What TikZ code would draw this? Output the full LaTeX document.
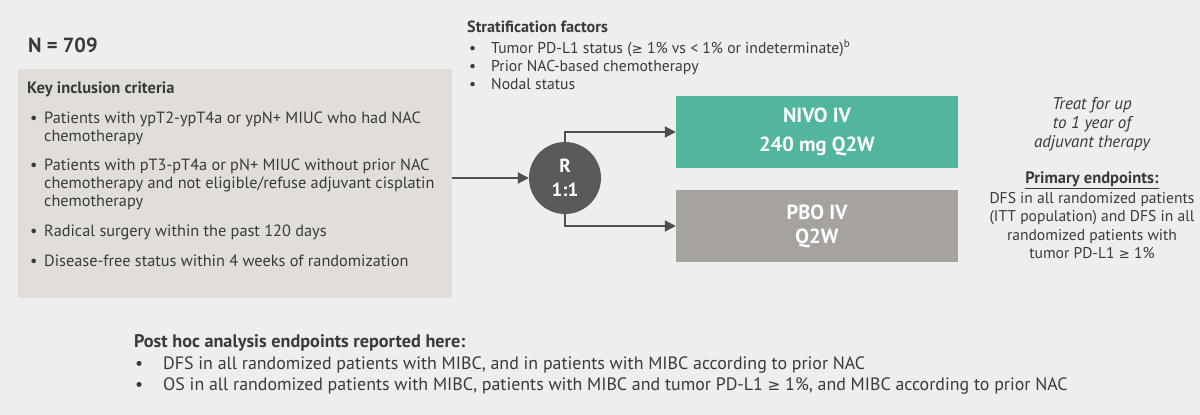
\documentclass[tikz,border=0pt]{standalone}
\usepackage{fontspec}
\setmainfont{PT Sans}
\newfontfamily\symfont[Scale=0.85]{DejaVu Sans}
\newcommand{\gesign}{{\symfont ≥}}
\usetikzlibrary{arrows.meta}
\definecolor{bgc}{RGB}{238,238,237}
\definecolor{boxc}{RGB}{225,222,218}
\definecolor{txtc}{RGB}{58,58,58}
\definecolor{tealc}{RGB}{82,181,158}
\definecolor{pboc}{RGB}{166,163,159}
\definecolor{circc}{RGB}{90,90,90}
\definecolor{linec}{RGB}{78,78,78}
\begin{document}
\begin{tikzpicture}[x=1pt,y=-1pt,
  txt/.style={anchor=base west,inner sep=0,text=txtc,font=\fontsize{16.3}{19}\selectfont},
  htxt/.style={anchor=base west,inner sep=0,text=txtc,font=\bfseries\fontsize{16.5}{19}\selectfont},
  stxt/.style={anchor=base west,inner sep=0,text=txtc,font=\fontsize{15.7}{18}\selectfont},
  rtxt/.style={anchor=base,inner sep=0,text=txtc,font=\fontsize{15.6}{19}\selectfont},
  itxt/.style={anchor=base,inner sep=0,text=txtc,font=\itshape\fontsize{17}{20}\selectfont},
  btxt/.style={anchor=base west,inner sep=0,text=txtc,font=\fontsize{17.9}{21}\selectfont},
  arm/.style={rectangle,inner sep=0,minimum width=282pt,minimum height=72pt,text=white,align=center},
  conn/.style={draw=linec,line width=2pt,-{Triangle[length=11pt,width=11pt]}}]
\fill[bgc] (0,0) rectangle (1200,415);
\useasboundingbox (0,0) rectangle (1200,415);

% N
\node[anchor=base west,inner sep=0,text=txtc,font=\bfseries\fontsize{20.5}{24}\selectfont] (n) at (28,52) {N = 709};

% inclusion box
\node[fill=boxc,anchor=north west,inner sep=0,minimum width=434pt,minimum height=229pt] (incl) at (18,69) {};
\node[htxt] (kh) at (27,93) {Key inclusion criteria};
\node[txt] (b1) at (30,123) {•};
\node[txt] (i1a) at (44,123) {Patients with ypT2-ypT4a or ypN+ MIUC who had NAC};
\node[txt] (i1b) at (44,141) {chemotherapy};
\node[txt] (b2) at (30,170) {•};
\node[txt] (i2a) at (44,170) {Patients with pT3-pT4a or pN+ MIUC without prior NAC};
\node[txt] (i2b) at (44,188) {chemotherapy and not eligible/refuse adjuvant cisplatin};
\node[txt] (i2c) at (44,206) {chemotherapy};
\node[txt] (b3) at (30,236) {•};
\node[txt] (i3) at (44,236) {Radical surgery within the past 120 days};
\node[txt] (b4) at (30,266) {•};
\node[txt] (i4) at (44,266) {Disease-free status within 4 weeks of randomization};

% stratification
\node[anchor=base west,inner sep=0,text=txtc,font=\bfseries\fontsize{16.2}{19}\selectfont] (sh) at (467,32) {Stratification factors};
\node[stxt] (sb1) at (469,53) {•};
\node[stxt] (s1) at (491,53) {Tumor PD-L1 status (\gesign{} 1\% vs < 1\% or indeterminate)\textsuperscript{b}};
\node[stxt] (sb2) at (469,71) {•};
\node[stxt] (s2) at (491,71) {Prior NAC-based chemotherapy};
\node[stxt] (sb3) at (469,89) {•};
\node[stxt] (s3) at (491,89) {Nodal status};

% randomisation
\node[circle,fill=circc,minimum size=72pt,inner sep=0,text=white,align=center,
      font=\bfseries\fontsize{19}{24}\selectfont] (R) at (565,178) {R\\1:1};

% arms
\node[arm,fill=tealc,font=\bfseries\fontsize{20.5}{29}\selectfont] (nivo) at (817,132) {NIVO IV\\240 mg Q2W};
\node[arm,fill=pboc,font=\bfseries\fontsize{20.5}{24}\selectfont] (pbo) at (817,226) {PBO IV\\Q2W};

% connectors
\draw[conn] (incl.east |- R.west) -- (R.west);
\draw[conn] (R.north) |- (nivo.west);
\draw[conn] (R.south) |- (pbo.west);

% right text
\node[itxt] (t1) at (1092,109) {Treat for up};
\node[itxt] (t2) at (1092,128) {to 1 year of};
\node[itxt] (t3) at (1092,147) {adjuvant therapy};
\node[rtxt,font=\bfseries\fontsize{16.5}{19}\selectfont] (pe) at (1092,183) {\underline{Primary endpoints:}};
\node[rtxt] (p1) at (1092,203) {DFS in all randomized patients};
\node[rtxt] (p2) at (1092,221) {(ITT population) and DFS in all};
\node[rtxt] (p3) at (1092,240) {randomized patients with};
\node[rtxt] (p4) at (1092,258) {tumor PD-L1 \gesign{} 1\%};

% bottom
\node[anchor=base west,inner sep=0,text=txtc,font=\bfseries\fontsize{18.2}{21}\selectfont] (ph) at (134,347) {Post hoc analysis endpoints reported here:};
\node[btxt] (pb1) at (135,369) {•};
\node[btxt] (ph1) at (163,369) {DFS in all randomized patients with MIBC, and in patients with MIBC according to prior NAC};
\node[btxt] (pb2) at (135,390) {•};
\node[btxt] (ph2) at (163,390) {OS in all randomized patients with MIBC, patients with MIBC and tumor PD-L1 \gesign{} 1\%, and MIBC according to prior NAC};
\end{tikzpicture}
\end{document}
